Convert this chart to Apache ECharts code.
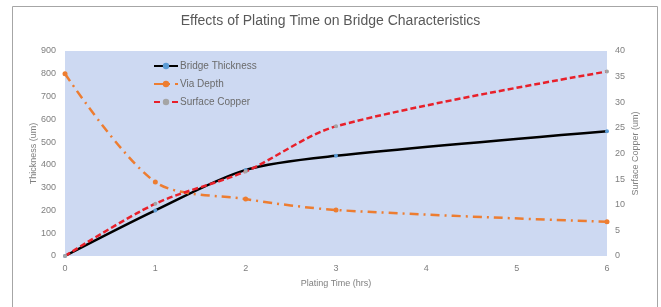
<!DOCTYPE html>
<html>
<head>
<meta charset="utf-8">
<script src="https://cdn.jsdelivr.net/npm/echarts@6/dist/echarts.min.js"></script>
<style>
  html, body { margin: 0; padding: 0; background: #fff; }
  #main { width: 661px; height: 307px; }
</style>
</head>
<body>
<div id="main"></div>
<script>
// plating time (hrs)
var hours = [0, 1, 2, 3, 6];
// left axis (um)
var bridgeThickness = [0, 200, 378, 440, 548];
var viaDepth = [800, 325, 250, 202, 150];
// right axis (um)
var surfaceCopper = [0, 10.2, 16.5, 25.3, 36];

function pairs(vals) {
    return hours.map(function (h, i) { return [h, vals[i]]; });
}

var myChart = echarts.init(document.getElementById('main'));
var axisText = { color: '#7f7f7f', fontSize: 9, fontFamily: 'Liberation Sans Narrow, Liberation Sans' };

var option = {
    backgroundColor: '#fff',
    animation: false,
    title: {
        text: 'Effects of Plating Time on Bridge Characteristics',
        left: 'center',
        top: 9,
        textStyle: { color: '#595959', fontSize: 14, fontWeight: 'normal', fontFamily: 'Liberation Sans Narrow, Liberation Sans' }
    },
    graphic: [{
        type: 'rect',
        shape: { x: 12.5, y: 6.5, width: 645, height: 302 },
        style: { fill: null, stroke: '#a6a6a6', lineWidth: 1 },
        silent: true
    }],
    legend: {
        orient: 'vertical',
        left: 148,
        top: 56,
        itemGap: 8,
        itemWidth: 24,
        itemHeight: 8,
        textStyle: { color: '#6b6b6b', fontSize: 10, padding: [0, 0, 0, -3], fontFamily: 'Liberation Sans Narrow, Liberation Sans' },
        data: ['Bridge Thickness', 'Via Depth', 'Surface Copper']
    },
    grid: {
        left: 65,
        right: 54,
        top: 51,
        bottom: 51,
        show: true,
        backgroundColor: '#cdd9f2',
        borderWidth: 0
    },
    xAxis: {
        type: 'value',
        min: 0,
        max: 6,
        interval: 1,
        name: 'Plating Time (hrs)',
        nameLocation: 'middle',
        nameGap: 23,
        nameTextStyle: axisText,
        axisLine: { show: false },
        axisTick: { show: false },
        splitLine: { show: false },
        axisLabel: Object.assign({ margin: 8 }, axisText)
    },
    yAxis: [{
        type: 'value',
        min: 0,
        max: 900,
        interval: 100,
        name: 'Thickness (um)',
        nameLocation: 'middle',
        nameGap: 27,
        nameMoveOverlap: false,
        nameTextStyle: axisText,
        axisLine: { show: false },
        axisTick: { show: false },
        splitLine: { show: false },
        axisLabel: Object.assign({ margin: 9 }, axisText)
    }, {
        type: 'value',
        min: 0,
        max: 40,
        interval: 5,
        name: 'Surface Copper (um)',
        nameLocation: 'middle',
        nameGap: 24,
        nameMoveOverlap: false,
        nameRotate: 90,
        nameTextStyle: axisText,
        axisLine: { show: false },
        axisTick: { show: false },
        splitLine: { show: false },
        axisLabel: Object.assign({ margin: 8 }, axisText)
    }],
    series: [{
        name: 'Bridge Thickness',
        type: 'line',
        smooth: 0.3,
        yAxisIndex: 0,
        data: pairs(bridgeThickness),
        symbol: 'circle',
        symbolSize: 4,
        itemStyle: { color: '#5b9bd5' },
        lineStyle: { color: '#000', width: 2.5 }
    }, {
        name: 'Via Depth',
        type: 'line',
        smooth: 0.3,
        yAxisIndex: 0,
        data: pairs(viaDepth),
        symbol: 'circle',
        symbolSize: 5,
        itemStyle: { color: '#ed7d31' },
        lineStyle: { color: '#ed7d31', width: 2.5, type: [9, 5, 2, 5] }
    }, {
        name: 'Surface Copper',
        type: 'line',
        smooth: 0.3,
        yAxisIndex: 1,
        data: pairs(surfaceCopper),
        symbol: 'circle',
        symbolSize: 4,
        itemStyle: { color: '#a5a5a5' },
        lineStyle: { color: '#e8202a', width: 2.5, type: [6, 3] }
    }]
};

myChart.setOption(option);
</script>
</body>
</html>
